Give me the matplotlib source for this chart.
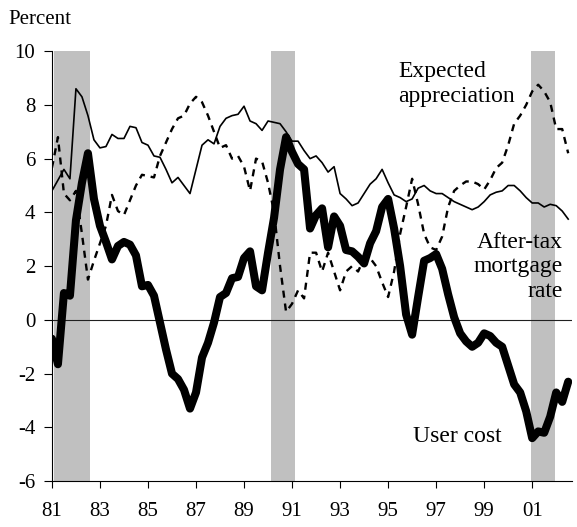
import matplotlib

matplotlib.use("Agg")
import matplotlib.pyplot as plt
import numpy as np

# quarterly data, 1981Q1 .. 2002Q3 (x in two-digit years, 101 = 2001)
mortgage_rate = [
    4.8, 5.2, 5.6, 5.25, 8.6, 8.3, 7.6, 6.7, 6.4, 6.45, 6.9, 6.75, 6.75, 7.2, 7.15, 6.6,
    6.5, 6.1, 6.05, 5.6, 5.1, 5.3, 5.0, 4.7, 5.6, 6.5, 6.7, 6.55, 7.2, 7.5, 7.6, 7.65,
    7.95, 7.4, 7.3, 7.05, 7.4, 7.35, 7.3, 7.0, 6.65, 6.65, 6.3, 6.0, 6.1, 5.85, 5.5, 5.7,
    4.7, 4.5, 4.25, 4.35, 4.7, 5.05, 5.25, 5.6, 5.1, 4.65, 4.55, 4.4, 4.5, 4.9, 5.0, 4.8,
    4.7, 4.7, 4.55, 4.4, 4.3, 4.2, 4.1, 4.2, 4.4, 4.65, 4.75, 4.8, 5.0, 5.0, 4.8, 4.55,
    4.35, 4.35, 4.2, 4.3, 4.25, 4.05, 3.75,
]
expected_appreciation = [
    5.65, 6.8, 4.7, 4.45, 4.8, 3.2, 1.5, 2.2, 2.85, 3.5, 4.65, 4.05, 3.9, 4.45, 5.0, 5.4,
    5.35, 5.3, 6.1, 6.6, 7.1, 7.5, 7.6, 8.05, 8.3, 8.1, 7.6, 7.0, 6.4, 6.5, 6.0, 6.1,
    5.7, 4.8, 6.0, 5.9, 5.1, 4.0, 2.0, 0.3, 0.6, 1.1, 0.8, 2.5, 2.5, 1.8, 2.5, 1.8,
    1.1, 1.8, 2.0, 1.8, 2.3, 2.3, 2.0, 1.4, 0.85, 1.8, 3.2, 4.2, 5.25, 4.3, 3.2, 2.7,
    2.6, 3.1, 4.2, 4.8, 5.0, 5.15, 5.15, 5.05, 4.85, 5.2, 5.65, 5.85, 6.5, 7.3, 7.6, 8.0,
    8.5, 8.75, 8.5, 8.1, 7.1, 7.1, 6.2,
]
user_cost = [
    -0.7, -1.65, 1.0, 0.9, 3.7, 5.1, 6.2, 4.5, 3.5, 2.9, 2.25, 2.75, 2.9, 2.8, 2.4, 1.25,
    1.3, 0.9, -0.1, -1.1, -2.0, -2.2, -2.6, -3.3, -2.7, -1.4, -0.85, -0.1, 0.85, 1.0, 1.55, 1.6,
    2.3, 2.55, 1.25, 1.1, 2.5, 3.8, 5.6, 6.8, 6.25, 5.8, 5.6, 3.4, 3.9, 4.15, 2.7, 3.85,
    3.5, 2.6, 2.55, 2.35, 2.1, 2.85, 3.3, 4.2, 4.5, 3.4, 2.0, 0.2, -0.55, 0.85, 2.2, 2.3,
    2.45, 1.9, 0.95, 0.1, -0.5, -0.8, -1.0, -0.85, -0.5, -0.6, -0.85, -1.0, -1.7, -2.4, -2.7, -3.4,
    -4.4, -4.15, -4.2, -3.6, -2.7, -3.05, -2.3,
]
recessions = [(81.08, 82.58), (90.12, 91.12), (100.96, 101.96)]
tick_years = [81, 83, 85, 87, 89, 91, 93, 95, 97, 99, 101]
tick_labels = ["81", "83", "85", "87", "89", "91", "93", "95", "97", "99", "01"]

quarters = 81 + np.arange(len(user_cost)) / 4.0

plt.rcParams["font.family"] = ["Liberation Serif", "DejaVu Serif"]
plt.rcParams["font.size"] = 15
plt.rcParams["axes.unicode_minus"] = False

fig = plt.figure(figsize=(5.77, 5.27), dpi=100)
ax = fig.add_axes([0.090, 0.087, 0.901, 0.816])

for start, end in recessions:
    ax.axvspan(start, end, color="#c0c0c0", lw=0, zorder=0)
ax.axhline(0, color="#202020", lw=0.8, zorder=1)

ax.plot(quarters, expected_appreciation, color="black", lw=1.7,
        linestyle=(0, (3.0, 2.5)), zorder=2)
ax.plot(quarters, mortgage_rate, color="black", lw=1.2, zorder=3)
ax.plot(quarters, user_cost, color="black", lw=5.8, solid_joinstyle="round",
        solid_capstyle="round", zorder=4)

ax.set_xlim(81, 102.65)
ax.set_ylim(-6, 10)
ax.set_yticks(range(-6, 11, 2))
ax.set_xticks(tick_years)
ax.set_xticklabels(tick_labels)
ax.tick_params(axis="x", direction="out", length=5, width=0.8, pad=10)
ax.tick_params(axis="y", direction="out", length=6, width=0.8, pad=6)
for side in ("top", "right"):
    ax.spines[side].set_visible(False)
for side in ("left", "bottom"):
    ax.spines[side].set_linewidth(0.8)

fig.text(0.014, 0.963, "Percent", ha="left", va="center", fontsize=15)
ax.text(95.42, 8.78, "Expected\nappreciation", ha="left", va="center",
        linespacing=1.2, fontsize=17)
ax.text(102.29, 1.97, "After-tax\nmortgage\nrate", ha="right", va="center",
        multialignment="right", linespacing=1.2, fontsize=17)
ax.text(97.9, -4.35, "User cost", ha="center", va="center", fontsize=17)

fig.savefig("out.png", dpi=100)
